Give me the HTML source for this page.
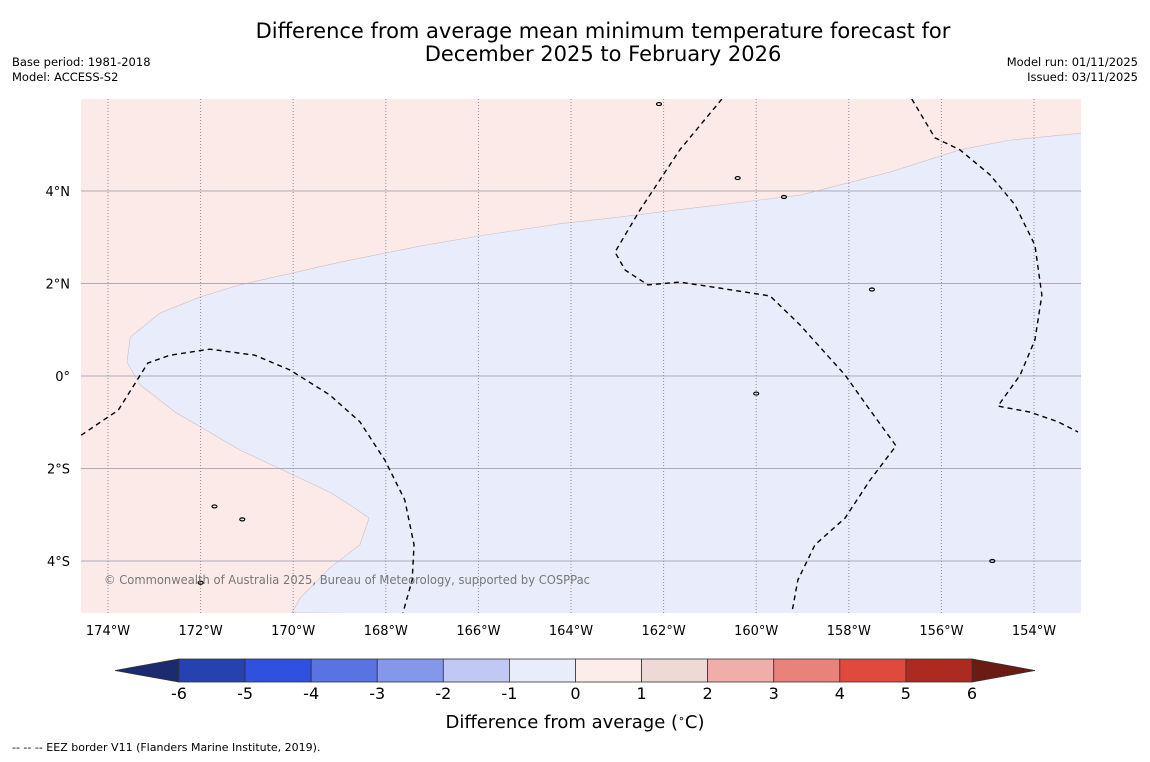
<!DOCTYPE html>
<html><head><meta charset="utf-8"><style>
body{margin:0;background:#fff;font-family:"DejaVu Sans","Liberation Sans",sans-serif}
svg text{font-family:"DejaVu Sans","Liberation Sans",sans-serif}
</style></head><body>
<svg id="chart" width="1150" height="758" viewBox="0 0 1150 758">
<rect width="1150" height="758" fill="#fff"/>
<text x="603" y="38" font-size="21" text-anchor="middle">Difference from average mean minimum temperature forecast for</text>
<text x="603" y="61" font-size="21" text-anchor="middle">December 2025 to February 2026</text>
<text x="12" y="66" font-size="11.5">Base period: 1981-2018</text>
<text x="12" y="81" font-size="11.5">Model: ACCESS-S2</text>
<text x="1138" y="66" font-size="11.5" text-anchor="end">Model run: 01/11/2025</text>
<text x="1138" y="81" font-size="11.5" text-anchor="end">Issued: 03/11/2025</text>
<defs><clipPath id="mapclip"><rect x="81" y="99" width="1000" height="514"/></clipPath></defs>
<g id="map" clip-path="url(#mapclip)">
<rect x="81" y="99" width="1000" height="514" fill="#fbeae8"/>
</g>
<g id="axes"></g>
<g id="cbar"></g>
<text x="575" y="728" font-size="18" text-anchor="middle">Difference from average (<tspan baseline-shift="super" font-size="11">∘</tspan>C)</text>
<text x="12" y="751" font-size="11">--  --  -- EEZ border V11 (Flanders Marine Institute, 2019).</text>
</svg>
<script>
const lonTicks=[-174,-172,-170,-168,-166,-164,-162,-160,-158,-156,-154];
const latTicks=[4,2,0,-2,-4];
const cbarLevels=[-6,-5,-4,-3,-2,-1,0,1,2,3,4,5,6];
const cbarColors=["#2641b0","#2f51de","#5a73e2","#8597ea","#c0c8f4","#e9ecfa","#fcedea","#efd9d6","#efaeaa","#e8827b","#de4a3e","#ad2a20"];
const boundaryLon=[-152.99,-154.52,-155.60,-157.11,-159.05,-161.21,-162.94,-164.24,-165.97,-167.26,-168.99,-171.15,-172.01,-172.88,-173.52,-173.59,-173.31,-172.55,-171.15,-169.85,-169.21,-168.77,-168.36,-168.56,-169.21,-169.85,-170.03];
const boundaryLat=[5.25,5.10,4.89,4.41,3.91,3.65,3.44,3.29,3.03,2.81,2.46,1.97,1.71,1.36,0.84,0.30,-0.19,-0.78,-1.60,-2.21,-2.51,-2.79,-3.07,-3.65,-4.15,-4.80,-5.12];
const c1Lon=[-174.58,-173.78,-173.14,-172.66,-171.80,-170.83,-170.07,-169.21,-168.56,-168.02,-167.59,-167.39,-167.43,-167.63];
const c1Lat=[-1.28,-0.74,0.28,0.45,0.58,0.45,0.13,-0.41,-0.99,-1.82,-2.68,-3.65,-4.41,-5.12];
const c2Lon=[-160.74,-161.65,-162.51,-163.05,-162.83,-162.34,-161.65,-160.78,-159.70,-159.05,-158.08,-157.54,-156.98,-157.54,-158.08,-158.73,-159.10,-159.23];
const c2Lat=[5.99,4.89,3.59,2.68,2.29,1.97,2.03,1.90,1.73,1.10,0.02,-0.74,-1.51,-2.25,-3.07,-3.65,-4.41,-5.12];
const c3Lon=[-156.64,-156.14,-155.60,-154.95,-154.41,-153.98,-153.83,-153.98,-154.30,-154.78,-154.09,-153.48,-153.05];
const c3Lat=[5.99,5.15,4.89,4.35,3.70,2.83,1.75,0.78,0.02,-0.65,-0.78,-0.99,-1.21];
const islandLon=[-171.7,-171.1,-172.0,-159.4,-157.5,-154.9,-162.1,-160.4,-160.0];
const islandLat=[-2.82,-3.1,-4.47,3.87,1.87,-4.0,5.88,4.28,-0.38];

const NS="http://www.w3.org/2000/svg";
const X=lon=>108+(lon+174)*46.3;
const Y=lat=>376-lat*46.25;
const CX=v=>179+(v+6)*66.08;
function mk(t,a,p){const e=document.createElementNS(NS,t);for(const k in a)e.setAttribute(k,a[k]);p.appendChild(e);return e;}
const map=document.getElementById('map'),axes=document.getElementById('axes'),cb=document.getElementById('cbar');

let d=boundaryLon.map((l,i)=>(i?'L':'M')+X(l)+' '+Y(boundaryLat[i])).join(' ')+` L1090 620 L1090 130 Z`;
const blue=mk('path',{d:d,fill:'#e9ecfa',stroke:'#cdbfc8','stroke-width':0.6},map);



latTicks.forEach(v=>{
  const l=mk('line',{x1:81,x2:1081,y1:Y(v),y2:Y(v),stroke:'#b0aab8','stroke-width':1},map);
  
  
  const t=mk('text',{x:70,y:Y(v)+5,'font-size':13,'text-anchor':'end'},axes);
  t.textContent=v===0?'0°':Math.abs(v)+'°'+(v>0?'N':'S');
  
  
});
lonTicks.forEach(v=>{
  const l=mk('line',{x1:X(v),x2:X(v),y1:99,y2:613,stroke:'#8a8aa0','stroke-width':1,'stroke-dasharray':'1 2'},map);
  
  
  const t=mk('text',{x:X(v),y:635,'font-size':13,'text-anchor':'middle'},axes);
  t.textContent=Math.abs(v)+'°W';
  
  
});
[[c1Lon,c1Lat],[c2Lon,c2Lat],[c3Lon,c3Lat]].forEach(([lo,la])=>{
  const p=mk('polyline',{points:lo.map((l,i)=>X(l)+','+Y(la[i])).join(' '),fill:'none',stroke:'#000','stroke-width':1.4,'stroke-dasharray':'5 4'},map);
  
  
});
islandLon.forEach((l,i)=>{
  const e=mk('ellipse',{cx:X(l),cy:Y(islandLat[i]),rx:2.5,ry:1.5,fill:'none',stroke:'#000','stroke-width':1.2},map);
  
  
});
const cr=mk('text',{x:104,y:584,'font-size':12,fill:'#777',textLength:486,lengthAdjust:'spacingAndGlyphs'},map);
cr.textContent='© Commonwealth of Australia 2025, Bureau of Meteorology, supported by COSPPac';



const a1=mk('polygon',{points:`${CX(-6)},659 ${CX(-6)},682 115,670.5`,fill:'#1c2a70',stroke:'#333','stroke-width':0.8},cb);


const a2=mk('polygon',{points:`${CX(6)},659 ${CX(6)},682 1035,670.5`,fill:'#6b1a14',stroke:'#333','stroke-width':0.8},cb);


cbarColors.forEach((c,i)=>{
  const r=mk('rect',{x:CX(cbarLevels[i]),y:659,width:CX(cbarLevels[i+1])-CX(cbarLevels[i]),height:23,fill:c,stroke:'#333','stroke-width':0.8},cb);
  
  
});
cbarLevels.forEach(v=>{
  const t=mk('text',{x:CX(v),y:699,'font-size':16,'text-anchor':'middle'},cb);
  t.textContent=v;
  
  
});
</script>
</body></html>
